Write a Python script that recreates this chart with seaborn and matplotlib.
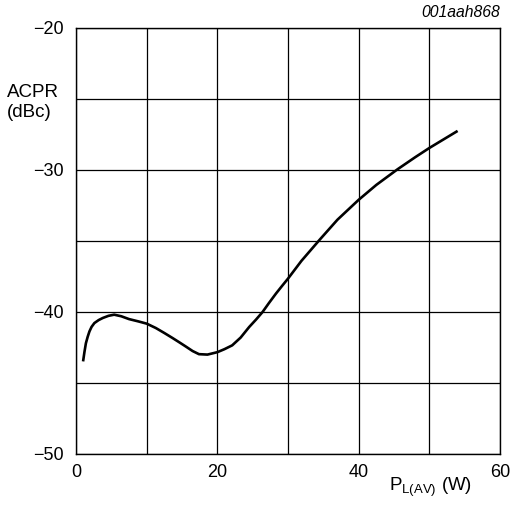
import matplotlib
matplotlib.use("Agg")
import matplotlib.pyplot as plt
import seaborn as sns
import pandas as pd

power_w = [1.0, 1.2, 1.4, 1.65, 1.9, 2.2, 2.6, 3.2, 3.8, 4.6, 5.4, 6.4, 7.5, 8.8, 10.0, 11.3, 12.5, 13.65, 14.6, 15.5, 16.5, 17.4, 18.6, 20.0, 21.0, 22.1, 23.3, 24.5, 25.5, 26.4, 27.3, 28.3, 29.1, 30.0, 31.9, 34.5, 37.0, 40.0, 42.5, 45.5, 48.0, 50.0, 52.0, 54.0]
acpr_dbc = [-43.48, -42.8, -42.2, -41.75, -41.37, -41.05, -40.78, -40.57, -40.42, -40.27, -40.19, -40.3, -40.5, -40.66, -40.82, -41.13, -41.48, -41.83, -42.13, -42.42, -42.75, -42.97, -43.0, -42.83, -42.62, -42.35, -41.8, -41.06, -40.52, -40.0, -39.37, -38.7, -38.2, -37.65, -36.4, -34.9, -33.5, -32.1, -31.05, -29.95, -29.1, -28.45, -27.85, -27.25]

x_ticks = [0, 20, 40, 60]
y_ticks = [-20, -30, -40, -50]

sns.set_theme(style="white")
plt.rcParams['font.family'] = ['Liberation Sans', 'DejaVu Sans']
plt.rcParams['text.color'] = 'black'

fig = plt.figure(figsize=(5.26, 5.05), dpi=100)
ax = fig.add_axes([0.1445, 0.1010, 0.8061, 0.8436])

df = pd.DataFrame({"P": power_w, "ACPR": acpr_dbc})
sns.lineplot(data=df, x="P", y="ACPR", ax=ax, color="black", linewidth=1.9, sort=False,
             solid_joinstyle="round", solid_capstyle="butt")

ax.set_xlim(0, 60)
ax.set_ylim(-50, -20)
ax.set_xticks(range(0, 61, 10))
ax.set_yticks(range(-50, -19, 5))
ax.set_xticklabels([str(v) if v in x_ticks else "" for v in range(0, 61, 10)])
ax.set_yticklabels([("\u2212" + str(abs(v))) if v in y_ticks else "" for v in range(-50, -19, 5)])
ax.grid(True, color="black", linewidth=0.9)
for s in ax.spines.values():
    s.set_color("black")
    s.set_linewidth(1.0)
ax.tick_params(axis="both", length=0, labelsize=13, colors="black")
ax.tick_params(axis="x", pad=7)
ax.tick_params(axis="y", pad=9)
ax.set_xlabel("")
ax.set_ylabel("")

fig.text(0.013, 0.797, "ACPR\n(dBc)", fontsize=13.5, ha="left", va="center", linespacing=1.2, color="black")
fig.text(0.951, 0.966, "001aah868", fontsize=11.3, style="italic", ha="right", va="baseline", color="black")
fig.text(0.898, 0.012, r"P$_{\mathregular{L(AV)}}$ (W)", fontsize=13.5, ha="right", va="bottom", color="black")

fig.savefig("out.png", dpi=100)
